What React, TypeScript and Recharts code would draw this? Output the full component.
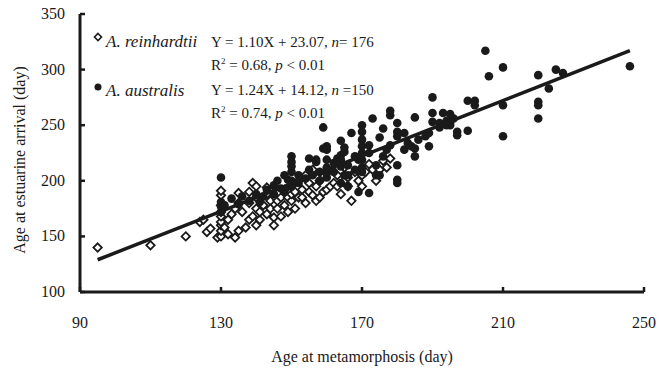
import { ScatterChart, Scatter, XAxis, YAxis } from "recharts";

const INK = "#1a1a1a";
const SERIF = "'Liberation Serif', 'Times New Roman', serif";

// [age at metamorphosis, age at estuarine arrival]
const reinhardtii: [number, number][] = [
  [95, 140], [110, 142], [120, 150], [124, 163], [125, 165], [126, 154], [127, 157],
  [129, 149], [130, 150], [130, 155], [130, 160], [130, 163], [130, 168], [130, 172],
  [130, 178], [130, 187], [130, 191], [131, 158], [132, 165], [132, 152], [133, 170],
  [134, 149], [134, 175], [135, 180], [135, 189], [135, 155], [136, 172], [137, 158],
  [138, 180], [138, 190], [138, 165], [139, 168], [139, 198], [140, 160], [140, 175],
  [140, 185], [140, 195], [141, 165], [141, 172], [142, 178], [143, 188], [143, 194],
  [143, 170], [144, 182], [144, 175], [145, 167], [145, 195], [145, 160], [146, 175],
  [146, 182], [147, 185], [147, 168], [148, 192], [148, 178], [149, 172], [149, 185],
  [150, 182], [150, 188], [150, 195], [151, 175], [151, 190], [152, 200], [152, 185],
  [153, 192], [153, 185], [154, 205], [154, 180], [155, 198], [155, 190], [156, 187],
  [156, 210], [157, 195], [157, 182], [158, 200], [158, 185], [159, 205], [159, 190],
  [160, 192], [161, 215], [161, 195], [162, 198], [163, 205], [163, 195], [164, 188],
  [165, 200], [165, 212], [166, 195], [166, 203], [167, 182], [168, 208], [169, 200],
  [170, 195], [170, 205], [171, 208], [172, 215], [173, 210], [174, 200], [175, 210],
  [176, 218], [177, 212], [178, 220],
];

const australis: [number, number][] = [
  [130, 203], [130, 172], [130, 177], [130, 181], [131, 178], [133, 184], [135, 179],
  [136, 186], [138, 182], [140, 188], [141, 181], [142, 186], [143, 192], [145, 188],
  [145, 196], [147, 193], [149, 201], [146, 200], [148, 190], [148, 205], [150, 195],
  [150, 200], [150, 208], [150, 213], [150, 217], [150, 222], [152, 198], [152, 205],
  [154, 202], [155, 210], [155, 220], [156, 205], [157, 219], [157, 217], [158, 200],
  [158, 208], [159, 248], [159, 229], [160, 203], [160, 207], [160, 212], [160, 219],
  [160, 228], [160, 231], [162, 216], [162, 208], [163, 220], [164, 236], [164, 223],
  [164, 219], [164, 213], [164, 198], [165, 230], [165, 226], [165, 205], [166, 214],
  [166, 205], [166, 195], [167, 243], [168, 222], [168, 210], [169, 219], [169, 190],
  [170, 250], [170, 244], [170, 237], [170, 231], [170, 225], [170, 219], [170, 212],
  [170, 208], [172, 189], [172, 225], [172, 232], [173, 256], [174, 214], [174, 205],
  [175, 239], [175, 205], [176, 247], [176, 222], [177, 228], [178, 263], [178, 259],
  [178, 232], [180, 252], [180, 244], [180, 240], [180, 214], [180, 201], [180, 198],
  [182, 243], [182, 228], [183, 234], [184, 231], [185, 257], [185, 229], [185, 222],
  [186, 237], [188, 240], [189, 243], [189, 231], [190, 275], [190, 261], [190, 253],
  [192, 248], [192, 252], [194, 250], [193, 261], [195, 260], [195, 252], [196, 256],
  [195, 250], [194, 254], [197, 244], [197, 241], [200, 272], [200, 245], [202, 272],
  [202, 268], [205, 317], [206, 294], [210, 302], [210, 268], [210, 240], [220, 295],
  [220, 271], [220, 268], [220, 256], [223, 283], [225, 300], [227, 297], [246, 303],
];

// fitted line, end points
const fitLine: [number, number][] = [
  [95, 129],
  [246, 317],
];

const xTicks = [90, 130, 170, 210, 250];
const yTicks = [100, 150, 200, 250, 300, 350];

const toPts = (arr: [number, number][]) => arr.map(([x, y]) => ({ x, y }));

const Diamond = (props: any) => {
  const { cx, cy } = props;
  const r = 4.2;
  return (
    <polygon
      points={`${cx},${cy - r} ${cx + r},${cy} ${cx},${cy + r} ${cx - r},${cy}`}
      fill="#fff"
      stroke={INK}
      strokeWidth={1.8}
    />
  );
};

const Dot = (props: any) => <circle cx={props.cx} cy={props.cy} r={4.3} fill={INK} />;

const YTick = ({ x, y, payload }: any) => (
  <g>
    <line x1={x + 12} x2={x + 17} y1={y} y2={y} stroke={INK} strokeWidth={2.5} />
    <text x={x - 3} y={y + 5} textAnchor="end" fontSize={16} fill={INK} fontFamily={SERIF}>
      {payload.value}
    </text>
  </g>
);

const XTick = ({ x, y, payload }: any) => (
  <g>
    <line x1={x} x2={x} y1={y - 12} y2={y - 17} stroke={INK} strokeWidth={2.5} />
    <text x={x} y={y + 24} textAnchor="middle" fontSize={16} fill={INK} fontFamily={SERIF}>
      {payload.value}
    </text>
  </g>
);

export default function App() {
  return (
    <div style={{ position: "relative", width: 657, height: 373, background: "#fff" }}>
      <style>{`body{margin:0}`}</style>
      <ScatterChart width={657} height={373} margin={{ top: 14, right: 13, bottom: 0, left: 0 }}>
        <XAxis
          type="number"
          dataKey="x"
          domain={[90, 250]}
          ticks={xTicks}
          height={81}
          tickSize={0}
          tickMargin={12}
          tickLine={false}
          axisLine={{ stroke: INK, strokeWidth: 3 }}
          tick={<XTick />}
          interval={0}
        />
        <YAxis
          type="number"
          dataKey="y"
          domain={[100, 350]}
          ticks={yTicks}
          width={80}
          tickSize={0}
          tickMargin={12}
          tickLine={false}
          axisLine={{ stroke: INK, strokeWidth: 3 }}
          tick={<YTick />}
          interval={0}
        />
        <Scatter data={toPts(reinhardtii)} shape={<Diamond />} isAnimationActive={false} />
        <Scatter data={toPts(australis)} shape={<Dot />} isAnimationActive={false} />
        <Scatter
          data={toPts(fitLine)}
          line={{ stroke: INK, strokeWidth: 3.5 }}
          shape={() => <g />}
          isAnimationActive={false}
        />
      </ScatterChart>
      <svg
        width={657}
        height={373}
        style={{ position: "absolute", left: 0, top: 0, pointerEvents: "none" }}
        fontFamily={SERIF}
        fill={INK}
      >
        <polygon points="98,33.5 101.5,37 98,40.5 94.5,37" fill="#fff" stroke={INK} strokeWidth={1.6} />
        <text x={106} y={47} fontSize={17} fontStyle="italic">A. reinhardtii</text>
        <text x={211} y={47} fontSize={15}>
          Y = 1.10X + 23.07, <tspan fontStyle="italic">n</tspan>= 176
        </text>
        <text x={211} y={70} fontSize={15}>
          R<tspan dy={-6} fontSize={9}>2</tspan>
          <tspan dy={6}> = 0.68, </tspan>
          <tspan fontStyle="italic">p</tspan> &lt; 0.01
        </text>
        <circle cx={98} cy={87} r={3.5} fill={INK} />
        <text x={106} y={96} fontSize={17} fontStyle="italic">A. australis</text>
        <text x={211} y={95} fontSize={15}>
          Y = 1.24X + 14.12, <tspan fontStyle="italic">n</tspan> =150
        </text>
        <text x={211} y={118} fontSize={15}>
          R<tspan dy={-6} fontSize={9}>2</tspan>
          <tspan dy={6}> = 0.74, </tspan>
          <tspan fontStyle="italic">p</tspan> &lt; 0.01
        </text>
        <text x={362} y={362} fontSize={16} textAnchor="middle">
          Age at metamorphosis (day)
        </text>
        <text
          x={0}
          y={0}
          fontSize={16}
          textAnchor="middle"
          transform="translate(25,160) rotate(-90)"
        >
          Age at estuarine arrival (day)
        </text>
      </svg>
    </div>
  );
}
